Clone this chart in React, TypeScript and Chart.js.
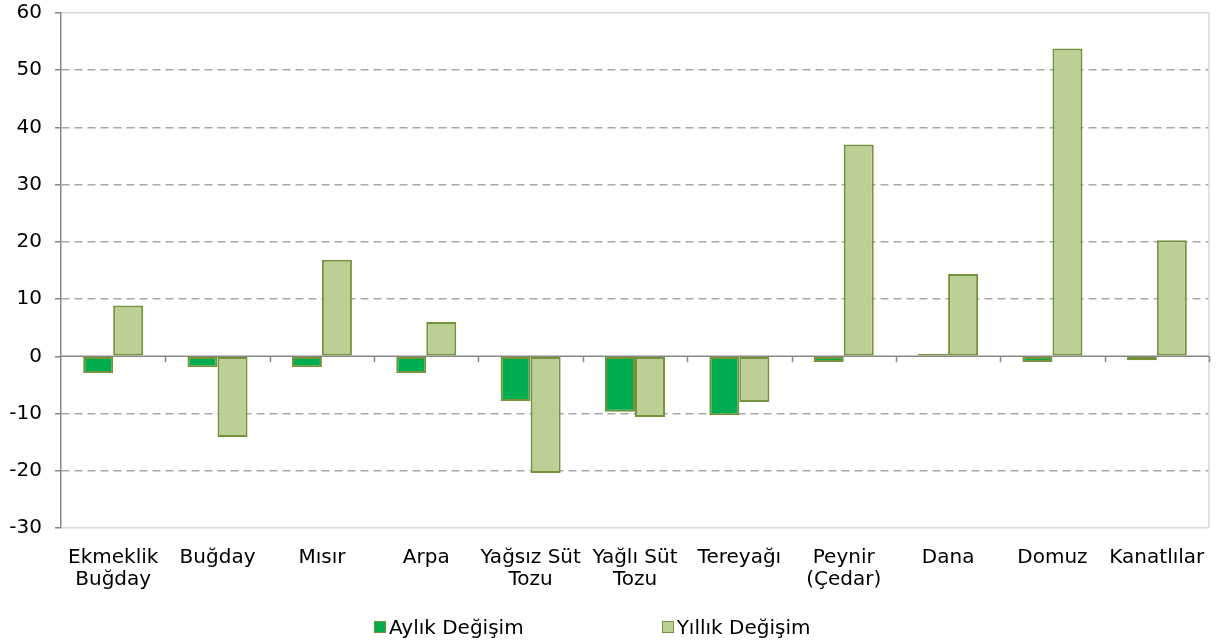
import React, { useEffect, useRef } from "react";
import { Chart, registerables } from "chart.js";

Chart.register(...registerables);

const categories: (string | string[])[] = [
  ["Ekmeklik", "Buğday"],
  "Buğday",
  "Mısır",
  "Arpa",
  ["Yağsız Süt", "Tozu"],
  ["Yağlı Süt", "Tozu"],
  "Tereyağı",
  ["Peynir", "(Çedar)"],
  "Dana",
  "Domuz",
  "Kanatlılar",
];

const monthlyLabel = "Aylık Değişim";
const yearlyLabel = "Yıllık Değişim";

const monthly = [-2.9, -1.9, -1.9, -2.9, -7.8, -9.7, -10.3, -1.0, 0.4, -1.0, -0.7];
const yearly = [8.9, -14.1, 16.9, 6.0, -20.4, -10.6, -8.0, 37.0, 14.4, 53.8, 20.3];

const yMin = -30;
const yMax = 60;
const yStep = 10;

const FONT = "'DejaVu Sans', Verdana, sans-serif";
const MONTHLY_COLOR = "#00ad4f";
const YEARLY_COLOR = "#bcd096";
const BAR_BORDER = "#76923c";
const AXIS_COLOR = "#878787";
const GRID_COLOR = "#a8a8a8";
const FRAME_COLOR = "#d9d9d9";

const axisPlugin = {
  id: "zeroAxis",
  beforeDatasetsDraw(chart: any) {
    const { ctx, chartArea, scales } = chart;
    const xs = scales.x;
    const ys = scales.y;
    const y0 = ys.getPixelForValue(0);
    ctx.save();
    ctx.strokeStyle = FRAME_COLOR;
    ctx.lineWidth = 1.5;
    ctx.beginPath();
    ctx.moveTo(chartArea.right, chartArea.top);
    ctx.lineTo(chartArea.right, chartArea.bottom);
    ctx.stroke();
    ctx.strokeStyle = AXIS_COLOR;
    ctx.lineWidth = 1.5;
    ctx.beginPath();
    ctx.moveTo(chartArea.left, y0);
    ctx.lineTo(chartArea.right, y0);
    const n = xs.ticks.length;
    const half = (xs.getPixelForValue(1) - xs.getPixelForValue(0)) / 2;
    for (let i = 1; i <= n; i++) {
      const bx = Math.round(xs.getPixelForValue(i - 1) + half) + 0.5;
      ctx.moveTo(bx, y0);
      ctx.lineTo(bx, y0 + 6);
    }
    ctx.stroke();
    ctx.restore();
  },
};

export default function App() {
  const canvasRef = useRef<HTMLCanvasElement | null>(null);

  useEffect(() => {
    document.body.style.margin = "0";
    const canvas = canvasRef.current;
    if (!canvas) return;
    const chart = new Chart(canvas, {
      type: "bar",
      data: {
        labels: categories,
        datasets: [
          {
            label: monthlyLabel,
            data: monthly,
            backgroundColor: MONTHLY_COLOR,
            borderColor: BAR_BORDER,
            borderWidth: 2,
            borderSkipped: false,
            categoryPercentage: 0.575,
            barPercentage: 1,
          },
          {
            label: yearlyLabel,
            data: yearly,
            backgroundColor: YEARLY_COLOR,
            borderColor: BAR_BORDER,
            borderWidth: 2,
            borderSkipped: false,
            categoryPercentage: 0.575,
            barPercentage: 1,
          },
        ],
      },
      options: {
        responsive: false,
        animation: false,
        events: [],
        layout: { padding: { left: 0, right: 23, top: 13, bottom: 44 } },
        plugins: {
          legend: { display: false },
          tooltip: { enabled: false },
        },
        scales: {
          x: {
            position: "bottom",
            offset: true,
            grid: { display: false, drawTicks: false },
            border: { display: false },
            ticks: {
              color: "#000",
              font: { family: FONT, size: 20, lineHeight: 1.1 },
              padding: 19,
              maxRotation: 0,
              autoSkip: false,
            },
            afterFit(scale: any) {
              scale.height = 72;
            },
          },
          y: {
            min: yMin,
            max: yMax,
            position: "left",
            ticks: {
              stepSize: yStep,
              color: "#000",
              font: { family: FONT, size: 20 },
              padding: 13,
            },
            grid: {
              drawTicks: true,
              tickLength: 6,
              tickColor: AXIS_COLOR,
              tickWidth: 1.5,
              lineWidth: 1.5,
              color: (ctx: any) => {
                const v = ctx.tick ? ctx.tick.value : null;
                if (v === yMax || v === yMin) return FRAME_COLOR;
                if (v === 0) return "rgba(0,0,0,0)";
                return GRID_COLOR;
              },
            },
            border: {
              display: true,
              color: AXIS_COLOR,
              width: 1.5,
              dash: (ctx: any) => {
                const v = ctx.tick ? ctx.tick.value : null;
                if (v === yMax || v === yMin || v === 0) return [];
                return [8, 5];
              },
            },
            afterFit(scale: any) {
              scale.width = 61;
              scale.paddingTop = 0;
              scale.paddingBottom = 0;
            },
          },
        },
      },
      plugins: [axisPlugin],
    } as any);
    return () => chart.destroy();
  }, []);

  const legendItems = [
    { label: monthlyLabel, color: MONTHLY_COLOR },
    { label: yearlyLabel, color: YEARLY_COLOR },
  ];

  return (
    <div style={{ position: "relative", width: 1232, height: 644, background: "#fff" }}>
      <canvas ref={canvasRef} width={1232} height={644} style={{ display: "block", width: 1232, height: 644 }} />
      <div
        style={{
          position: "absolute",
          left: 374,
          top: 614,
          display: "flex",
          alignItems: "center",
          fontFamily: FONT,
          fontSize: 20,
          color: "#000",
          lineHeight: "26px",
        }}
      >
        {legendItems.map((it, i) => (
          <div key={it.label} style={{ display: "flex", alignItems: "center", marginRight: i === 0 ? 138 : 0 }}>
            <span
              style={{
                display: "inline-block",
                width: 10,
                height: 10,
                background: it.color,
                border: `1px solid ${BAR_BORDER}`,
                marginRight: 3,
              }}
            />
            <span>{it.label}</span>
          </div>
        ))}
      </div>
    </div>
  );
}
